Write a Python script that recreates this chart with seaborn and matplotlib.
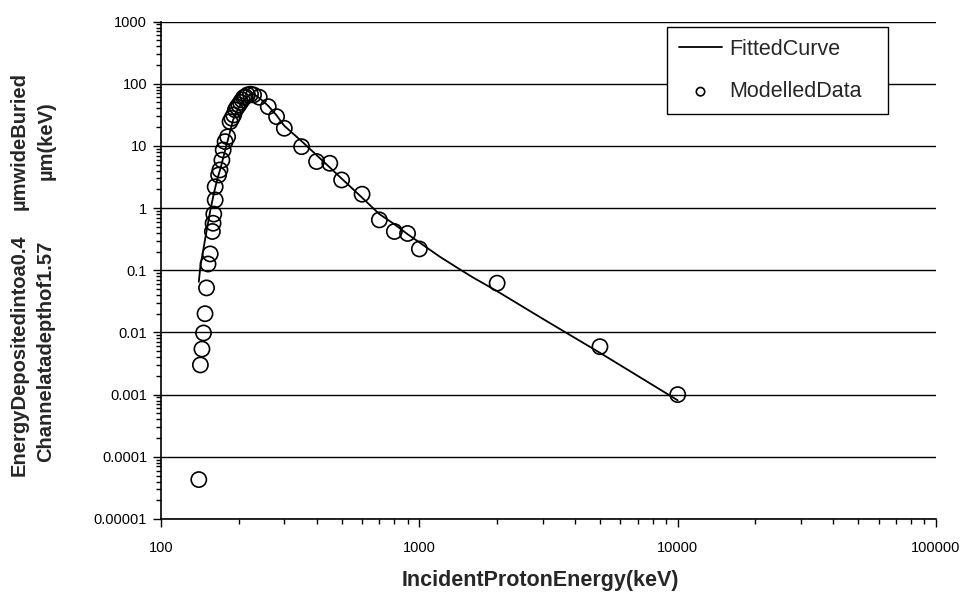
import matplotlib
matplotlib.use("Agg")
import matplotlib.pyplot as plt
import seaborn as sns
from matplotlib.ticker import FixedLocator, NullFormatter, LogLocator

# Monte Carlo results: deposited energy versus incident proton energy
data_energy = [140, 142, 144, 146, 148, 150, 152, 155, 158, 159, 160, 162,
               162, 167, 169, 172, 174, 177, 181, 185, 188, 191, 194, 197,
               200, 203, 206, 209, 212, 216, 222, 228, 240, 260, 280, 300,
               350, 400, 450, 500, 600, 700, 800, 900, 1000, 2000, 5000,
               10000]
data_dep = [4.3e-5, 0.003, 0.0054, 0.0098, 0.020, 0.052, 0.126, 0.183, 0.42,
            0.57, 0.80, 1.35, 2.2, 3.4, 4.1, 5.9, 8.6, 11.7, 14.0, 24.5, 27.8,
            31.4, 37.8, 42.0, 45.5, 50.0, 54.7, 60.0, 61.7, 66.0, 67.7, 66.0,
            60.5, 42.7, 29.5, 19.2, 9.7, 5.6, 5.25, 2.83, 1.67, 0.645, 0.42,
            0.39, 0.22, 0.062, 0.0059, 0.001]

# Fitted response curve
fit_energy = [140, 142, 148, 155, 160, 165, 170, 175, 180, 185, 190, 195,
              200, 205, 210, 215, 220, 225, 230, 240, 250, 260, 280, 300,
              350, 400, 450, 500, 600, 700, 800, 900, 1000, 1200, 1400, 1600,
              2000, 3000, 5000, 10000]
fit_dep = [0.065, 0.115, 0.31, 0.9, 1.7, 2.9, 4.4, 7.0, 11.0, 17.0, 26.0,
           34.0, 41.0, 48.0, 55.0, 61.0, 66.0, 68.5, 67.0, 59.0, 51.0, 44.0,
           31.0, 21.0, 11.9, 7.1, 4.5, 2.98, 1.47, 0.80, 0.55, 0.38, 0.28,
           0.165, 0.11, 0.078, 0.046, 0.0166, 0.0047, 0.00081]

x_ticks = [100, 1000, 10000, 100000]
x_tick_labels = ["100", "1000", "10000", "100000"]
y_ticks = [1e-5, 1e-4, 1e-3, 1e-2, 1e-1, 1, 10, 100, 1000]
y_tick_labels = ["0.00001", "0.0001", "0.001", "0.01", "0.1", "1", "10",
                 "100", "1000"]

sns.set_theme(style="white")
plt.rcParams["font.family"] = ["Liberation Sans", "DejaVu Sans"]

fig = plt.figure(figsize=(9.69, 5.94), dpi=100)
ax = fig.add_axes([0.1662, 0.1263, 0.7998, 0.8375])

ax.set_xscale("log")
ax.set_yscale("log")

sns.lineplot(x=fit_energy, y=fit_dep, ax=ax, color="black", linewidth=1.3,
             label="FittedCurve", sort=False, estimator=None)
sns.scatterplot(x=data_energy, y=data_dep, ax=ax, marker="o", s=120,
                facecolor="none", edgecolor="black", linewidth=1.2,
                label="ModelledData", zorder=3)

ax.set_xlim(100, 100000)
ax.set_ylim(1e-5, 1000)

# horizontal gridlines at every decade
ax.yaxis.grid(True, which="major", color="black", linewidth=1.0)
ax.xaxis.grid(False)

ax.xaxis.set_major_locator(FixedLocator(x_ticks))
ax.set_xticklabels(x_tick_labels)
ax.xaxis.set_minor_locator(LogLocator(base=10, subs=range(2, 10)))
ax.xaxis.set_minor_formatter(NullFormatter())
ax.yaxis.set_major_locator(FixedLocator(y_ticks))
ax.set_yticklabels(y_tick_labels)
ax.yaxis.set_minor_locator(LogLocator(base=10, subs=range(2, 10)))
ax.yaxis.set_minor_formatter(NullFormatter())

ax.tick_params(axis="both", which="major", direction="out", length=6,
               width=1, color="black", labelsize=10.5, labelcolor="black",
               left=True, bottom=True)
ax.tick_params(axis="both", which="minor", direction="out", length=3.5,
               width=1, color="black", left=True, bottom=True)
ax.tick_params(axis="y", which="major", pad=4)
ax.tick_params(axis="x", which="major", pad=10)

for side in ("top", "right"):
    ax.spines[side].set_visible(False)
for side in ("left", "bottom"):
    ax.spines[side].set_color("black")
    ax.spines[side].set_linewidth(1.2)

ax.set_xlabel("IncidentProtonEnergy(keV)", fontsize=15.5, fontweight="bold")
ax.xaxis.set_label_coords(0.489, -0.102)
ax.set_ylabel("")

# two-line vertical axis title
ylab = dict(rotation=90, fontsize=14.5, fontweight="bold", ha="center",
            va="bottom")
fig.text(19 / 969, 1 - 476 / 594, "EnergyDepositedintoa0.4", **ylab)
fig.text(19 / 969, 1 - 210 / 594, "µmwideBuried", **ylab)
fig.text(46 / 969, 1 - 462 / 594, "Channelatadepthof1.57", **ylab)
fig.text(46 / 969, 1 - 180 / 594, "µm(keV)", **ylab)

# legend box spans a fixed region of the upper-right plot area
leg = ax.legend(loc="upper left", bbox_to_anchor=(0.653, 0.989, 0.285, 0.0),
                mode="expand", borderaxespad=0, frameon=True, fancybox=False,
                fontsize=15.5, labelspacing=1.0, handlelength=2.0,
                handletextpad=0.35, borderpad=0.55, markerscale=0.55)
leg.get_frame().set_edgecolor("black")
leg.get_frame().set_linewidth(1.0)
leg.get_frame().set_facecolor("white")
leg.get_frame().set_alpha(1)

fig.savefig("out.png", dpi=100, facecolor="white")
